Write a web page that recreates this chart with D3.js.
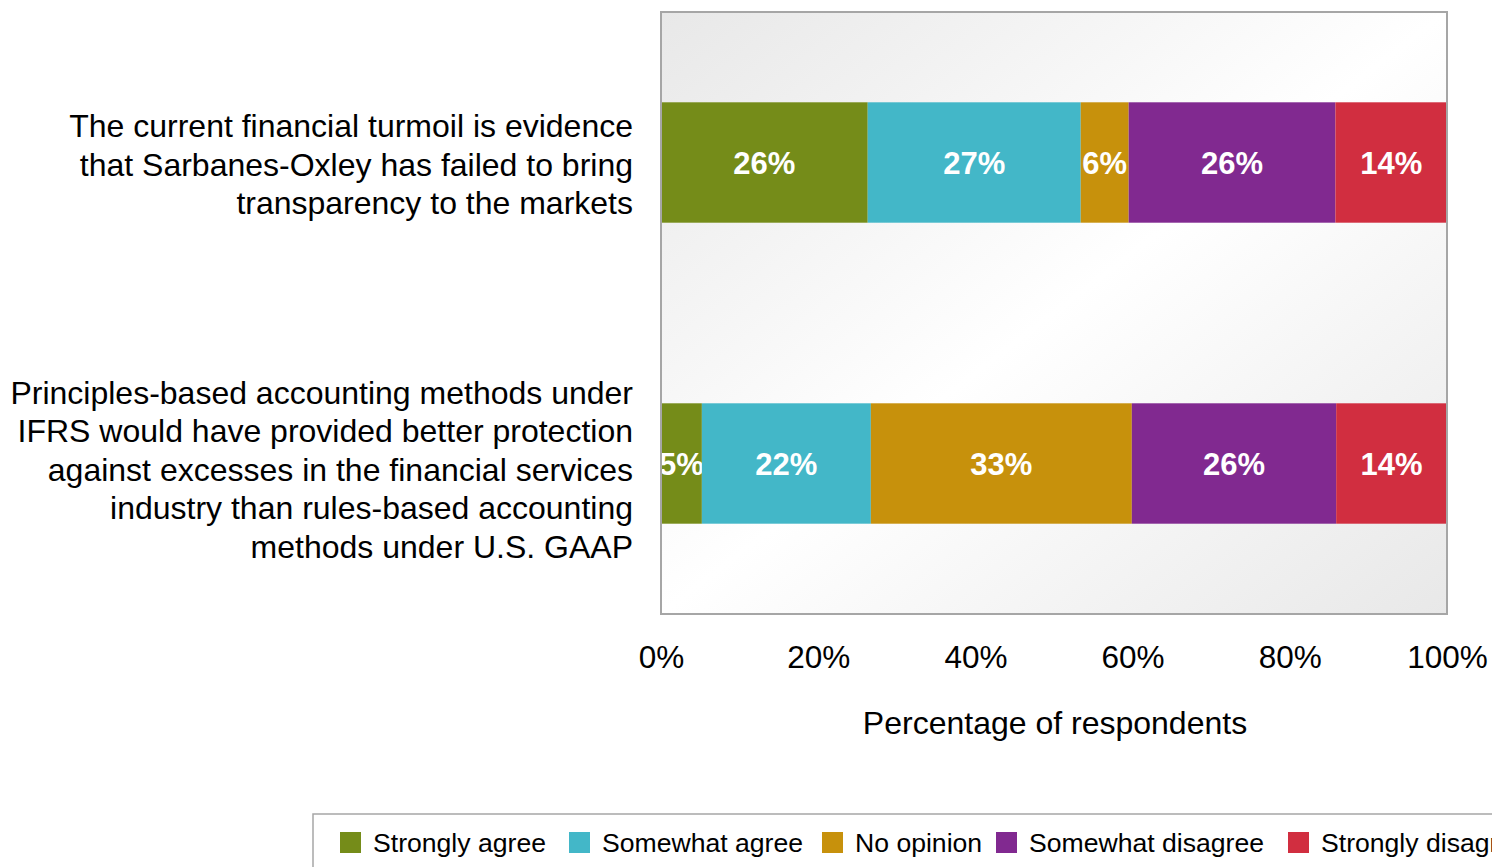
<!DOCTYPE html>
<html>
<head>
<meta charset="utf-8">
<script src="https://cdn.jsdelivr.net/npm/d3@7/dist/d3.min.js"></script>
<style>
  html, body { margin: 0; padding: 0; background: #fff; overflow: hidden; }
  svg { display: block; font-family: "Liberation Sans", Arial, sans-serif; }
</style>
</head>
<body>
<svg id="chart" width="1492" height="867"></svg>
<script>
// ---- data ----
const categories = [
  "The current financial turmoil is evidence|that Sarbanes-Oxley has failed to bring|transparency to the markets",
  "Principles-based accounting methods under|IFRS would have provided better protection|against excesses in the financial services|industry than rules-based accounting|methods under U.S. GAAP"
];
const seriesNames = ["Strongly agree", "Somewhat agree", "No opinion", "Somewhat disagree", "Strongly disagree"];
const seriesColors = ["#758c19", "#43b7c8", "#c7910c", "#812990", "#d12e40"];
// shares (in %) per series, one per category
const stronglyAgree    = [26.3, 5.2];
const somewhatAgree    = [27.1, 21.5];
const noOpinion        = [6.1, 33.2];
const somewhatDisagree = [26.3, 26.0];
const stronglyDisagree = [14.2, 14.1];
const tickValues = [0, 20, 40, 60, 80, 100];
const axisTitle = "Percentage of respondents";

const seriesValues = [stronglyAgree, somewhatAgree, noOpinion, somewhatDisagree, stronglyDisagree];
const table = categories.map((c, i) => {
  const row = { cat: c };
  seriesNames.forEach((s, j) => row[s] = seriesValues[j][i]);
  return row;
});

// ---- layout ----
const svg = d3.select("#chart");
const plot = { left: 661, right: 1447, top: 12, bottom: 614 };
const legendX = [340, 569, 822, 996, 1288]; // layout: legend item left edges

const x = d3.scaleLinear().domain([0, 100]).range([plot.left, plot.right]);
const y = d3.scaleBand().domain(categories).range([plot.top, plot.bottom])
  .paddingInner(0.6).paddingOuter(0.3);

// background gradient
const defs = svg.append("defs");
const grad = defs.append("linearGradient").attr("id", "bg")
  .attr("x1", "0").attr("y1", "0").attr("x2", "1").attr("y2", "1");
grad.append("stop").attr("offset", "0").attr("stop-color", "#e8e8e8");
grad.append("stop").attr("offset", "0.5").attr("stop-color", "#ffffff");
grad.append("stop").attr("offset", "1").attr("stop-color", "#e8e8e8");

svg.append("rect")
  .attr("x", plot.left).attr("y", plot.top)
  .attr("width", plot.right - plot.left).attr("height", plot.bottom - plot.top)
  .attr("fill", "url(#bg)");

const stack = d3.stack().keys(seriesNames)(table);

const groups = svg.append("g").selectAll("g").data(stack).join("g")
  .attr("fill", (d, i) => seriesColors[i]);

groups.selectAll("rect").data(d => d).join("rect")
  .attr("x", d => x(d[0]))
  .attr("y", d => y(d.data.cat))
  .attr("width", d => x(d[1]) - x(d[0]))
  .attr("height", y.bandwidth());

groups.selectAll("text").data(d => d).join("text")
  .attr("x", d => (x(d[0]) + x(d[1])) / 2)
  .attr("y", d => y(d.data.cat) + y.bandwidth() / 2)
  .attr("dy", "0.36em")
  .attr("text-anchor", "middle")
  .attr("fill", "#fff")
  .attr("font-weight", "bold")
  .attr("font-size", 31)
  .text(d => Math.round(d[1] - d[0]) + "%");

// plot border
svg.append("rect")
  .attr("x", plot.left).attr("y", plot.top)
  .attr("width", plot.right - plot.left).attr("height", plot.bottom - plot.top)
  .attr("fill", "none").attr("stroke", "#a6a6a6").attr("stroke-width", 2);

// x axis
const xAxis = d3.axisBottom(x).tickValues(tickValues).tickSize(0).tickPadding(0)
  .tickFormat(d => d + "%");
const gx = svg.append("g").attr("transform", `translate(0,${plot.bottom + 43})`).call(xAxis);
gx.select(".domain").remove();
gx.selectAll("text").attr("font-size", 31.5).attr("fill", "#000")
  .attr("font-family", "Liberation Sans, Arial, sans-serif")
  .attr("dy", "0.36em").attr("y", 0);

svg.append("text")
  .attr("x", (plot.left + plot.right) / 2 + 1)
  .attr("y", 722).attr("dy", "0.36em")
  .attr("text-anchor", "middle").attr("font-size", 32).attr("fill", "#000")
  .text(axisTitle);

// category labels
const lineH = 38.5;
svg.append("g").selectAll("text").data(categories).join("text")
  .attr("text-anchor", "end")
  .attr("font-size", 32)
  .attr("fill", "#000")
  .each(function(c) {
    const lines = c.split("|");
    const cy = y(c) + y.bandwidth() / 2 + 1.5 + (lines.length - 3) * 2;
    d3.select(this).selectAll("tspan").data(lines).join("tspan")
      .attr("x", 633)
      .attr("y", (l, i) => cy + (i - (lines.length - 1) / 2) * lineH)
      .attr("dy", "0.36em")
      .text(l => l);
  });

// legend
const legend = svg.append("g");
legend.append("rect").attr("x", 313).attr("y", 814).attr("width", 1300).attr("height", 80)
  .attr("fill", "#fff").attr("stroke", "#a6a6a6").attr("stroke-width", 1.5);
seriesNames.forEach((s, i) => {
  const g = legend.append("g").attr("transform", `translate(${legendX[i]},832)`);
  g.append("rect").attr("width", 21).attr("height", 21).attr("fill", seriesColors[i]);
  g.append("text").attr("x", 33).attr("y", 11).attr("dy", "0.35em")
    .attr("font-size", 26.6).attr("fill", "#000").text(s);
});
</script>
</body>
</html>
